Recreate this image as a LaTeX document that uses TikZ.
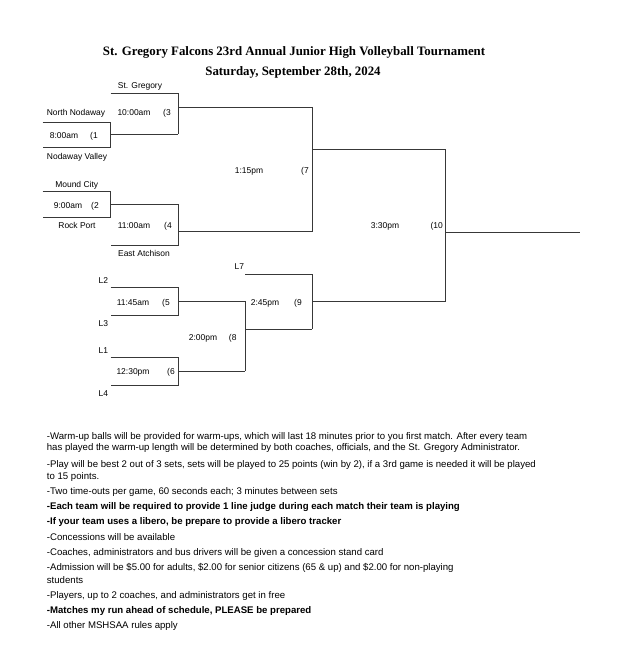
\documentclass[tikz,border=0pt]{standalone}
\usepackage{fontspec}
\setmainfont{Liberation Sans}
\newfontfamily\titlefont{Liberation Serif}
\begin{document}
\begin{tikzpicture}[x=1bp,y=-1bp,
  br/.style={draw=black!78, line width=0.9bp},
  lbl/.style={font=\fontsize{8.5}{10}\selectfont, inner sep=0pt, anchor=base},
  note/.style={font=\fontsize{9.65}{11}\selectfont, inner sep=0pt, anchor=base west},
  bnote/.style={note, font=\fontsize{9.65}{11}\selectfont\bfseries},
  ttl/.style={font=\titlefont\bfseries\fontsize{12.9}{15}\selectfont, inner sep=0pt, anchor=base}]
\useasboundingbox (0,0) rectangle (626,654);

% title
\node[ttl] (t1) at (294,56) {St. Gregory Falcons 23rd Annual Junior High Volleyball Tournament};
\node[ttl] (t2) at (293,75.5) {Saturday, September 28th, 2024};

% ---------- coordinates ----------
% match 1
\coordinate (m1tl) at (42.7,122);   \coordinate (m1tr) at (110.7,122);
\coordinate (m1bl) at (42.7,147.3); \coordinate (m1br) at (110.7,147.3);
\coordinate (m1o) at (110.7,134);
% match 3
\coordinate (m3tl) at (110.7,93.3); \coordinate (m3tr) at (178,93.3);
\coordinate (m3br) at (178,134);    \coordinate (m3o) at (178,107);
% match 2
\coordinate (m2tl) at (42.7,191.7); \coordinate (m2tr) at (110.7,191.7);
\coordinate (m2bl) at (42.7,217.3); \coordinate (m2br) at (110.7,217.3);
\coordinate (m2o) at (110.7,204);
% match 4
\coordinate (m4tr) at (178,204);
\coordinate (m4bl) at (110.7,245);  \coordinate (m4br) at (178,245);
\coordinate (m4o) at (178,231.7);
% match 7
\coordinate (m7tr) at (312.3,107);  \coordinate (m7br) at (312.3,231.7);
\coordinate (m7o) at (312.3,149);
% match 10
\coordinate (m10tr) at (445.7,149); \coordinate (m10br) at (445.7,301.7);
\coordinate (m10o) at (445.7,232.3); \coordinate (m10end) at (580,232.3);
% match 5
\coordinate (m5tl) at (110.7,287.7); \coordinate (m5tr) at (178,287.7);
\coordinate (m5bl) at (110.7,315);   \coordinate (m5br) at (178,315);
\coordinate (m5o) at (178,301.7);
% match 6
\coordinate (m6tl) at (110.7,357.7); \coordinate (m6tr) at (178,357.7);
\coordinate (m6bl) at (110.7,385);   \coordinate (m6br) at (178,385);
\coordinate (m6o) at (178,371);
% match 8
\coordinate (m8tr) at (245,301.7);   \coordinate (m8br) at (245,371);
\coordinate (m8o) at (245,329.3);
% match 9
\coordinate (m9tl) at (245,274);     \coordinate (m9tr) at (312.3,274);
\coordinate (m9br) at (312.3,329.3); \coordinate (m9o) at (312.3,301.7);

% ---------- bracket lines ----------
\draw[br] (m1tl) -- (m1tr) -- (m1br) -- (m1bl);
\draw[br] (m1o) -- (m3br);
\draw[br] (m3tl) -- (m3tr) -- (m3br);
\draw[br] (m3o) -- (m7tr);
\draw[br] (m2tl) -- (m2tr) -- (m2br) -- (m2bl);
\draw[br] (m2o) -- (m4tr) -- (m4br) -- (m4bl);
\draw[br] (m4o) -- (m7br);
\draw[br] (m7tr) -- (m7br);
\draw[br] (m7o) -- (m10tr) -- (m10br);
\draw[br] (m10o) -- (m10end);
\draw[br] (m5tl) -- (m5tr) -- (m5br) -- (m5bl);
\draw[br] (m5o) -- (m8tr) -- (m8br);
\draw[br] (m6tl) -- (m6tr) -- (m6br) -- (m6bl);
\draw[br] (m6o) -- (m8br);
\draw[br] (m8o) -- (m9br);
\draw[br] (m9tl) -- (m9tr) -- (m9br);
\draw[br] (m9o) -- (m10br);

% ---------- bracket labels ----------
\node[lbl] (stg) at (140,89) {St. Gregory};
\node[lbl] (nn) at (76,116) {North Nodaway};
\node[lbl] (t800) at (64,138) {8:00am};
\node[lbl] (g1) at (94,138) {(1};
\node[lbl] (nv) at (77,159) {Nodaway Valley};
\node[lbl] (t1000) at (134,116) {10:00am};
\node[lbl] (g3) at (167,116) {(3};
\node[lbl] (mc) at (76.7,187) {Mound City};
\node[lbl] (t900) at (68,208) {9:00am};
\node[lbl] (g2) at (95,208) {(2};
\node[lbl] (rp) at (77,228.7) {Rock Port};
\node[lbl] (t1100) at (134,228.7) {11:00am};
\node[lbl] (g4) at (168,228.7) {(4};
\node[lbl] (ea) at (144,256) {East Atchison};
\node[lbl] (t115) at (249,173) {1:15pm};
\node[lbl] (g7) at (305,173) {(7};
\node[lbl] (t330) at (385,228) {3:30pm};
\node[lbl] (g10) at (436.7,228) {(10};
\node[lbl] (l7) at (239.3,269.7) {L7};
\node[lbl] (l2) at (103.3,283.7) {L2};
\node[lbl] (l3) at (103.3,326.3) {L3};
\node[lbl] (l1) at (103.3,353.7) {L1};
\node[lbl] (l4) at (103.3,396.3) {L4};
\node[lbl] (t1145) at (133,305.3) {11:45am};
\node[lbl] (g5) at (166,305.3) {(5};
\node[lbl] (t1230) at (133,374) {12:30pm};
\node[lbl] (g6) at (171,374) {(6};
\node[lbl] (t200) at (203,340.3) {2:00pm};
\node[lbl] (g8) at (232.7,340.3) {(8};
\node[lbl] (t245) at (265,305.3) {2:45pm};
\node[lbl] (g9) at (298,305.3) {(9};

% ---------- notes ----------
\node[note] (n1a) at (46.7,439.5) {-Warm-up balls will be provided for warm-ups, which will last 18 minutes prior to you first match. After every team};
\node[note] (n1b) at (46.7,450.8) {has played the warm-up length will be determined by both coaches, officials, and the St. Gregory Administrator.};
\node[note] (n2a) at (46.7,467.8) {-Play will be best 2 out of 3 sets, sets will be played to 25 points (win by 2), if a 3rd game is needed it will be played};
\node[note] (n2b) at (46.7,479.2) {to 15 points.};
\node[note] (n3) at (46.7,494.5) {-Two time-outs per game, 60 seconds each; 3 minutes between sets};
\node[bnote] (n4) at (46.7,509.5) {-Each team will be required to provide 1 line judge during each match their team is playing};
\node[bnote] (n5) at (46.7,524.5) {-If your team uses a libero, be prepare to provide a libero tracker};
\node[note] (n6) at (46.7,540.2) {-Concessions will be available};
\node[note] (n7) at (46.7,555.8) {-Coaches, administrators and bus drivers will be given a concession stand card};
\node[note] (n8a) at (46.7,570.8) {-Admission will be \$5.00 for adults, \$2.00 for senior citizens (65 \& up) and \$2.00 for non-playing};
\node[note] (n8b) at (46.7,583.5) {students};
\node[note] (n9) at (46.7,598.2) {-Players, up to 2 coaches, and administrators get in free};
\node[bnote] (n10) at (46.7,613.5) {-Matches my run ahead of schedule, PLEASE be prepared};
\node[note] (n11) at (46.7,628.5) {-All other MSHSAA rules apply};
\end{tikzpicture}
\end{document}
